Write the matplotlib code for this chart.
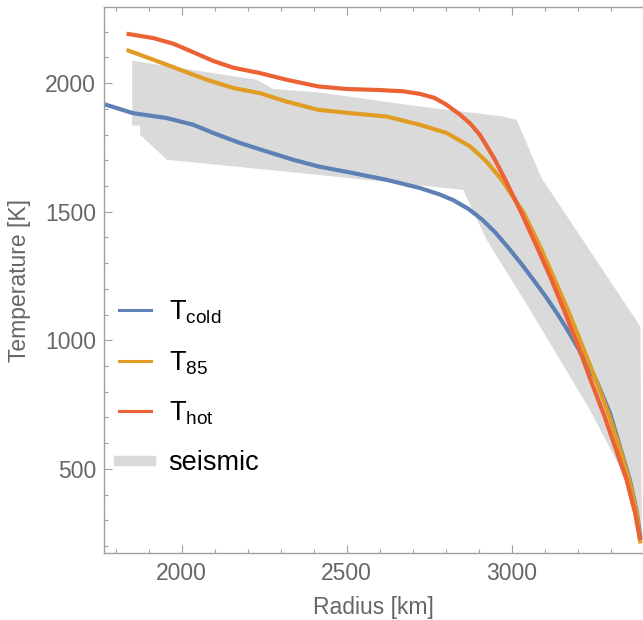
import matplotlib
matplotlib.use("Agg")
import matplotlib.pyplot as plt
from matplotlib.lines import Line2D

plt.rcParams['font.family'] = ['Liberation Sans', 'DejaVu Sans']
plt.rcParams['mathtext.default'] = 'regular'

# ---- data ----
hot_r = [1833, 1914, 1975, 2035, 2096, 2156, 2237, 2318, 2414, 2500, 2600, 2672, 2722, 2765,
         2800, 2843, 2875, 2904, 2945, 2980, 3030, 3076, 3121, 3162, 3202, 3239, 3280, 3313,
         3348, 3374, 3389]
hot_t = [2192, 2175, 2153, 2120, 2086, 2060, 2039, 2013, 1987, 1977, 1973, 1968, 1958, 1943,
         1918, 1878, 1842, 1798, 1712, 1626, 1494, 1365, 1235, 1106, 976, 846, 710, 587,
         458, 328, 224]

t85_r = [1833, 1914, 1995, 2076, 2156, 2237, 2318, 2414, 2520, 2621, 2722, 2803, 2874, 2924,
         2970, 3037, 3086, 3131, 3174, 3215, 3255, 3293, 3326, 3356, 3379, 3390]
t85_t = [2129, 2091, 2052, 2013, 1981, 1961, 1928, 1896, 1882, 1870, 1838, 1806, 1754, 1695,
         1624, 1494, 1365, 1235, 1106, 976, 846, 717, 587, 458, 328, 210]

cold_r = [1765, 1853, 1955, 2035, 2096, 2177, 2258, 2338, 2414, 2500, 2621, 2722, 2780, 2823,
          2870, 2910, 2950, 2990, 3035, 3070, 3106, 3140, 3167, 3202, 3258, 3298, 3328, 3358,
          3379, 3391]
cold_t = [1918, 1883, 1864, 1838, 1806, 1767, 1734, 1702, 1676, 1655, 1624, 1592, 1568, 1545,
          1510, 1470, 1420, 1360, 1288, 1228, 1165, 1100, 1045, 968, 840, 717, 587, 458,
          335, 225]

seis_r = [1850, 2227, 2278, 2414, 2722, 2975, 3015, 3090, 3390, 3394, 3393,
          3348, 3237, 3056, 2924, 2853, 2414, 1955, 1874, 1874, 1850]
seis_t = [2087, 2013, 1977, 1964, 1909, 1870, 1857, 1632, 1054, 329, 230,
          458, 730, 1118, 1391, 1585, 1643, 1702, 1799, 1835, 1835]

labels = [r'T$_{cold}$', r'T$_{85}$', r'T$_{hot}$', 'seismic']
colors = ['#5E81B5', '#E19C24', '#EB6235', '#DADADA']

x_ticks = [2000, 2500, 3000]
y_ticks = [500, 1000, 1500, 2000]

fig = plt.figure(figsize=(6.43, 6.2), dpi=100)
ax = fig.add_axes([104.3 / 643, (620 - 553.3) / 620, 1 - 104.3 / 643, (553.3 - 6.7) / 620])

ax.fill(seis_r, seis_t, color=colors[3], lw=0, zorder=1)
ax.plot(cold_r, cold_t, color=colors[0], lw=3.0, zorder=2, solid_capstyle='butt')
ax.plot(t85_r, t85_t, color=colors[1], lw=3.0, zorder=3, solid_capstyle='butt')
ax.plot(hot_r, hot_t, color=colors[2], lw=3.0, zorder=4, solid_capstyle='butt')

ax.set_xlim(1765.5, 3398)
ax.set_ylim(172, 2297)

frame_col = '#A0A0A0'
for s in ['left', 'bottom', 'top']:
    ax.spines[s].set_color(frame_col)
    ax.spines[s].set_linewidth(1.0)
ax.spines['right'].set_visible(False)

ax.set_xticks(x_ticks)
ax.set_yticks(y_ticks)
ax.set_xticks(range(1800, 3400, 100), minor=True)
ax.set_yticks(range(200, 2300, 100), minor=True)
ax.tick_params(which='both', direction='in', color=frame_col, top=True, right=False,
               labelcolor='#666666', labelsize=16.5, width=0.8)
ax.tick_params(which='major', length=5.5, pad=6)
ax.tick_params(which='minor', length=3)

ax.set_xlabel('Radius [km]', fontsize=16.5, color='#666666', labelpad=8)
ax.set_ylabel('Temperature [K]', fontsize=16.5, color='#666666', labelpad=10)

handles = [Line2D([], [], color=colors[0], lw=2.2),
           Line2D([], [], color=colors[1], lw=2.2),
           Line2D([], [], color=colors[2], lw=2.2),
           Line2D([], [], color=colors[3], lw=7.5)]
leg = ax.legend(handles, labels, loc='upper left', bbox_to_anchor=(-0.018, 0.51),
                frameon=False, fontsize=19.5, handlelength=1.2, handletextpad=0.63,
                labelspacing=0.85)

fig.savefig('out.png', dpi=100)
